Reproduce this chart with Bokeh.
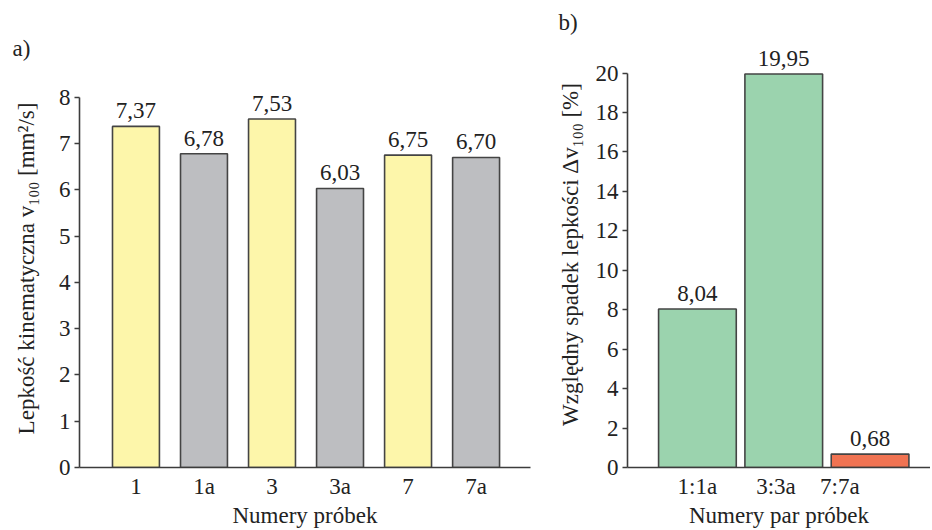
from bokeh.plotting import figure
from bokeh.layouts import row
from bokeh.models import ColumnDataSource, FixedTicker, Range1d, SingleIntervalTicker
from bokeh.embed import file_html
from bokeh.resources import INLINE

# ---- data ----
samples = ["1", "1a", "3", "3a", "7", "7a"]
viscosity = [7.37, 6.78, 7.53, 6.03, 6.75, 6.70]
sample_colors = ["#FDF6AA", "#BDBEC1", "#FDF6AA", "#BDBEC1", "#FDF6AA", "#BDBEC1"]

pairs = ["1:1a", "3:3a", "7:7a"]
drop = [8.04, 19.95, 0.68]
pair_colors = ["#9BD3AE", "#9BD3AE", "#F07352"]
pair_label_shift = [0.0, -0.09, -0.35]

FONT = "Liberation Serif"
FS = "23px"
AX = "#3c3c3c"
TXT = "#222222"


def fmt(v):
    return f"{v:.2f}".replace(".", ",")


def style(p, label_x, label_y, interval, top):
    p.xgrid.visible = False
    p.ygrid.visible = False
    p.outline_line_color = None
    p.yaxis.ticker = SingleIntervalTicker(interval=interval)
    p.yaxis.bounds = (0, top)
    p.yaxis.minor_tick_line_color = None
    p.yaxis.major_tick_in = 0
    p.yaxis.major_tick_out = 5
    p.xaxis.major_tick_in = 0
    p.xaxis.major_tick_out = 0
    p.xaxis.minor_tick_line_color = None
    for ax in (p.xaxis[0], p.yaxis[0]):
        ax.axis_line_color = AX
        ax.axis_line_width = 1.6
        ax.major_tick_line_color = AX
        ax.major_tick_line_width = 1.6
        ax.major_label_text_font = FONT
        ax.major_label_text_font_size = FS
        ax.major_label_text_color = TXT
        ax.axis_label_text_font = FONT
        ax.axis_label_text_font_size = FS
        ax.axis_label_text_font_style = "normal"
        ax.axis_label_text_color = TXT
    p.xaxis.axis_label = label_x
    p.yaxis.axis_label = label_y
    p.xaxis.major_label_standoff = 6
    p.xaxis.axis_label_standoff = 1
    p.yaxis.major_label_standoff = 4
    p.title.text_font = FONT
    p.title.text_font_size = "23px"
    p.title.text_font_style = "normal"
    p.title.text_color = TXT
    p.title.align = "left"


# ---- left panel ----
xa = list(range(len(samples)))
src_a = ColumnDataSource(dict(x=xa, v=viscosity, c=sample_colors,
                              t=[fmt(v) for v in viscosity]))
pa = figure(width=540, height=530, x_range=Range1d(-0.83, 5.8), y_range=Range1d(0, 8.6),
            output_backend="svg", toolbar_location=None, title="a)", frame_align=False,
            min_border_left=79, min_border_right=10, min_border_top=69, min_border_bottom=62)
pa.vbar(x="x", top="v", width=0.69, fill_color="c", line_color="#444444", line_width=1.6,
        source=src_a)
pa.text(x="x", y="v", text="t", source=src_a, text_align="center", text_baseline="bottom",
        y_offset=-8, text_font=FONT, text_font_size=FS, text_color=TXT)
style(pa, "Numery próbek", "Lepkość kinematyczna v₁₀₀ [mm²/s]", 1, 8)
pa.yaxis.axis_label_standoff = 17
pa.xaxis.ticker = FixedTicker(ticks=xa)
pa.xaxis.major_label_overrides = {i: s for i, s in zip(xa, samples)}
pa.title.offset = -67
pa.title.standoff = 17

# ---- right panel ----
xb = list(range(len(pairs)))
src_b = ColumnDataSource(dict(x=xb, v=drop, c=pair_colors, t=[fmt(v) for v in drop]))
pb = figure(width=390, height=530, x_range=Range1d(-0.81, 2.70), y_range=Range1d(0, 21.6),
            output_backend="svg", toolbar_location=None, title="b)", frame_align=False,
            min_border_left=87, min_border_right=0, min_border_top=39, min_border_bottom=62)
pb.vbar(x="x", top="v", width=0.9, fill_color="c", line_color="#444444", line_width=1.6,
        source=src_b)
pb.text(x="x", y="v", text="t", source=src_b, text_align="center", text_baseline="bottom",
        y_offset=-8, text_font=FONT, text_font_size=FS, text_color=TXT)
style(pb, "Numery par próbek", "Względny spadek lepkości Δv₁₀₀ [%]", 2, 20)
pb.yaxis.axis_label_standoff = 10
tick_pos = [i + s for i, s in zip(xb, pair_label_shift)]
pb.xaxis.ticker = FixedTicker(ticks=tick_pos)
pb.xaxis.major_label_overrides = {t: s for t, s in zip(tick_pos, pairs)}
pb.title.offset = -69
pb.title.standoff = 14

layout = row(pa, pb)
open("out.html", "w").write(file_html(layout, INLINE))
